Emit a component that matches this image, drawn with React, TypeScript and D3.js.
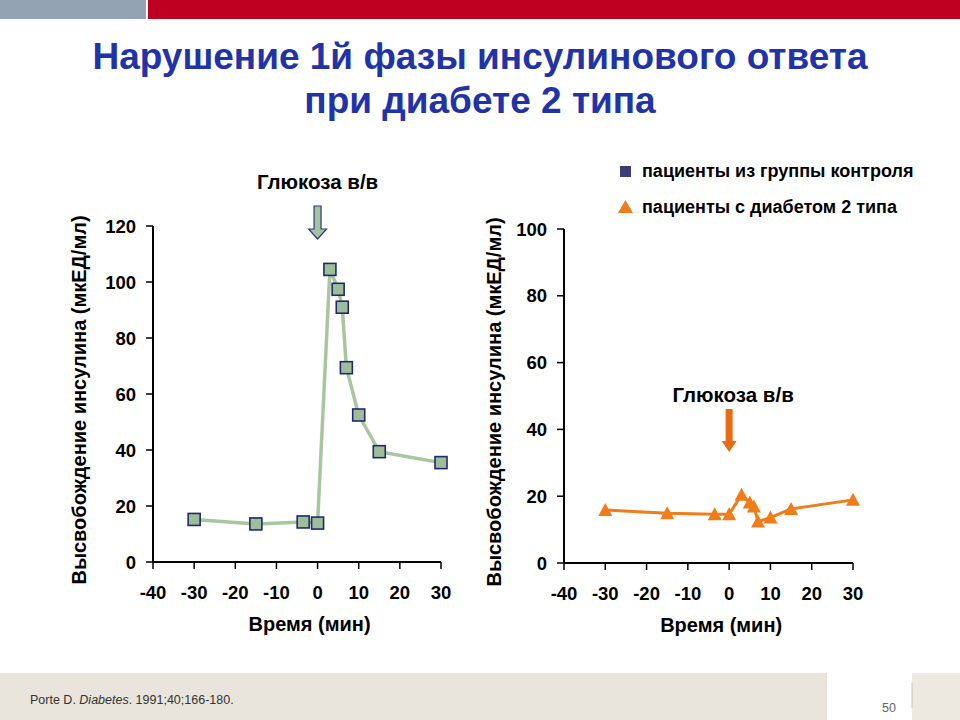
import React from 'react';
import * as d3 from 'd3';

// control group (left panel)
const controlTime = [-30, -15, -3.5, 0, 3, 5, 6, 7, 10, 15, 30];
const controlInsulin = [15.2, 13.6, 14.3, 13.9, 104.5, 97.4, 91, 69.4, 52.5, 39.4, 35.5];

// type 2 diabetes (right panel)
const diabTime = [-30, -15, -3.5, 0, 3, 5, 6, 7, 10, 15, 30];
const diabInsulin = [15.9, 14.9, 14.6, 14.6, 20.4, 18.1, 16.9, 12.4, 13.6, 16.2, 18.9];

const xTicks = [-40, -30, -20, -10, 0, 10, 20, 30];
const leftYTicks = [0, 20, 40, 60, 80, 100, 120];
const rightYTicks = [0, 20, 40, 60, 80, 100];

const FONT = 'Liberation Sans, Arial, sans-serif';
const yTitle = 'Высвобождение инсулина (мкЕД/мл)';

type PanelProps = {
  x0: number; x1: number; y0: number; y1: number;
  yMax: number; yTicks: number[];
  children: (x: d3.ScaleLinear<number, number>, y: d3.ScaleLinear<number, number>) => React.ReactNode;
  titleX: number;
};

const Panel = ({ x0, x1, y0, y1, yMax, yTicks, children, titleX }: PanelProps) => {
  const x = d3.scaleLinear().domain([-40, 30]).range([x0, x1]);
  const y = d3.scaleLinear().domain([0, yMax]).range([y0, y1]);
  return (
    <g>
      <line x1={x0} x2={x0} y1={y1} y2={y0} stroke="#000" strokeWidth={2} />
      <line x1={x0} x2={x1} y1={y0} y2={y0} stroke="#000" strokeWidth={2} />
      {yTicks.map(t => (
        <g key={'y' + t}>
          <line x1={x0 - 7} x2={x0} y1={y(t)} y2={y(t)} stroke="#000" strokeWidth={1.5} />
          <text x={x0 - 17} y={y(t)} dy="0.36em" textAnchor="end" fontSize={18.5} fontWeight="bold" fontFamily={FONT}>{t}</text>
        </g>
      ))}
      {xTicks.map(t => (
        <g key={'x' + t}>
          <line x1={x(t)} x2={x(t)} y1={y0} y2={y0 + 7} stroke="#000" strokeWidth={1.5} />
          <text x={x(t)} y={y0 + 37} textAnchor="middle" fontSize={18.5} fontWeight="bold" fontFamily={FONT}>{t}</text>
        </g>
      ))}
      <text x={x(0) - 8} y={y0 + 69} textAnchor="middle" fontSize={20} fontWeight="bold" fontFamily={FONT}>Время (мин)</text>
      <text transform={`translate(${titleX},${(y0 + y1) / 2 + 6}) rotate(-90)`} textAnchor="middle" fontSize={20} fontWeight="bold" fontFamily={FONT}>{yTitle}</text>
      {children(x, y)}
    </g>
  );
};

export default function App() {
  const W = 960, H = 720;
  const ctrl = controlTime.map((t, i) => [t, controlInsulin[i]] as [number, number]);
  const diab = diabTime.map((t, i) => [t, diabInsulin[i]] as [number, number]);

  return (
    <svg width={W} height={H} style={{ position: 'absolute', left: 0, top: 0, background: '#fff' }}>
      {/* header bars */}
      <rect x={0} y={0} width={146} height={19} fill="#94a3b4" />
      <rect x={148} y={0} width={812} height={19} fill="#c00020" />

      <text x={480} y={69} textAnchor="middle" fontSize={37} fontWeight="bold" fill="#2233aa" fontFamily={FONT}>Нарушение 1й фазы инсулинового ответа</text>
      <text x={480} y={113} textAnchor="middle" fontSize={37} fontWeight="bold" fill="#2233aa" fontFamily={FONT}>при диабете 2 типа</text>

      {/* legend */}
      <rect x={620} y={166} width={11} height={11} fill="#3b3b78" />
      <text x={642} y={177} fontSize={18} fontWeight="bold" fontFamily={FONT}>пациенты из группы контроля</text>
      <path d="M 618 213 L 625.5 200 L 633 213 Z" fill="#ee7d1a" />
      <text x={642} y={213} fontSize={18} fontWeight="bold" fontFamily={FONT}>пациенты с диабетом 2 типа</text>

      {/* left panel */}
      <Panel x0={153} x1={441} y0={562} y1={226} yMax={120} yTicks={leftYTicks} titleX={86}>
        {(x, y) => {
          const line = d3.line<[number, number]>().x(d => x(d[0])).y(d => y(d[1]));
          const ax = x(0);
          return (
            <g>
              <text x={ax} y={189} textAnchor="middle" fontSize={20.5} fontWeight="bold" fontFamily={FONT}>Глюкоза в/в</text>
              <path d={`M ${ax - 3.5} 206 H ${ax + 3.5} V 229 H ${ax + 9} L ${ax} 239 L ${ax - 9} 229 H ${ax - 3.5} Z`}
                fill="#a6c29e" stroke="#2a3a7a" strokeWidth={1.2} />
              <path d={line(ctrl) ?? ''} fill="none" stroke="#a8c6a0" strokeWidth={3.5} strokeLinejoin="round" />
              {ctrl.map((d, i) => (
                <rect key={i} x={x(d[0]) - 6} y={y(d[1]) - 6} width={12} height={12}
                  fill="#9fbd98" stroke="#1e2a72" strokeWidth={1.6} />
              ))}
            </g>
          );
        }}
      </Panel>

      {/* right panel */}
      <Panel x0={564} x1={853} y0={563} y1={229} yMax={100} yTicks={rightYTicks} titleX={501}>
        {(x, y) => {
          const line = d3.line<[number, number]>().x(d => x(d[0])).y(d => y(d[1]));
          const ax = x(0);
          return (
            <g>
              <text x={ax + 4} y={402} textAnchor="middle" fontSize={20.5} fontWeight="bold" fontFamily={FONT}>Глюкоза в/в</text>
              <path d={`M ${ax - 3.5} 409 H ${ax + 3.5} V 441 H ${ax + 7.5} L ${ax} 452 L ${ax - 7.5} 441 H ${ax - 3.5} Z`}
                fill="#ea6c12" />
              <path d={line(diab) ?? ''} fill="none" stroke="#f07d1a" strokeWidth={3} strokeLinejoin="round" />
              {diab.map((d, i) => {
                const cx = x(d[0]), cy = y(d[1]);
                return <path key={i} d={`M ${cx - 7} ${cy + 6} L ${cx} ${cy - 7} L ${cx + 7} ${cy + 6} Z`} fill="#f07d1a" />;
              })}
            </g>
          );
        }}
      </Panel>

      {/* footer */}
      <rect x={0} y={673} width={827} height={47} fill="#e9e5dc" />
      <rect x={912} y={673} width={48} height={47} fill="#ede9e1" />
      <line x1={912} x2={912} y1={683} y2={708} stroke="#c8c4bc" strokeWidth={1} />
      <text x={30} y={704} fontSize={12.5} fill="#333" fontFamily={FONT}>
        Porte D. <tspan fontStyle="italic">Diabetes</tspan>. 1991;40;166-180.
      </text>
      <text x={889} y={712} textAnchor="middle" fontSize={12.5} fill="#666" fontFamily={FONT}>50</text>
    </svg>
  );
}
